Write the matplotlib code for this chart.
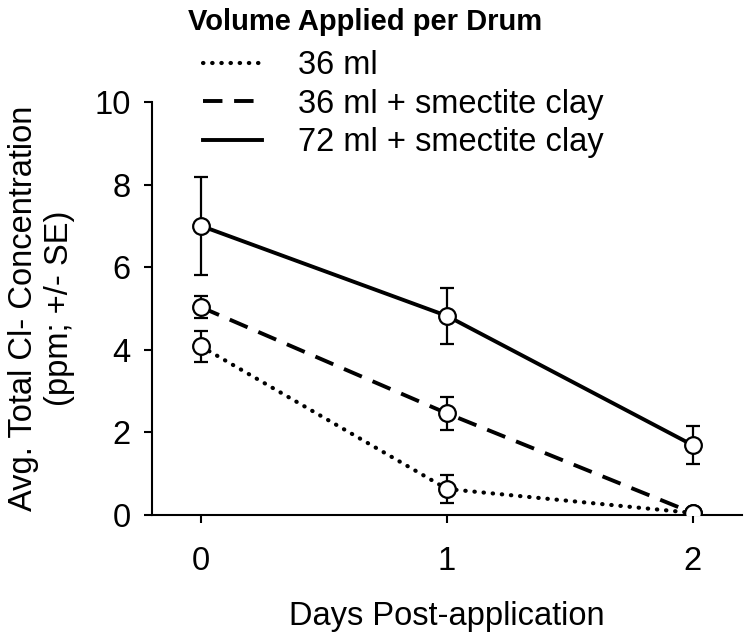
import numpy as np
import matplotlib
matplotlib.use("Agg")
import matplotlib.pyplot as plt

plt.rcParams['font.family'] = ['Liberation Sans', 'DejaVu Sans']

# data
days = [0, 1, 2]
tick_labels = ["0", "1", "2"]
series_names = ["36 ml", "36 ml + smectite clay", "72 ml + smectite clay"]
ml36 = [4.08, 0.63, 0.05]
ml36_se = [0.38, 0.35, 0.0]
ml36_clay = [5.03, 2.46, 0.05]
ml36_clay_se = [0.27, 0.40, 0.0]
ml72_clay = [7.0, 4.82, 1.69]
ml72_clay_se = [1.18, 0.67, 0.46]

fig = plt.figure(figsize=(7.5, 6.37), dpi=100)
ax = fig.add_axes([152/750, 122/637, 590/750, 413/637])

styles = [(0, (0.1, 2.1)), (0, (5, 3)), '-']
widths = [3.0, 2.8, 2.8]
caps = ['round', 'butt', 'butt']
means = [ml36, ml36_clay, ml72_clay]
errs = [ml36_se, ml36_clay_se, ml72_clay_se]

handles = []
for m, e, ls, lw, cs, name in zip(means, errs, styles, widths, caps, series_names):
    line, = ax.plot(days, m, color='black', linestyle=ls, linewidth=lw,
                    dash_capstyle=cs, zorder=2, label=name)
    ax.errorbar(days, m, yerr=e, fmt='none', ecolor='black', elinewidth=1.6,
                capsize=5, capthick=1.6, zorder=3)
    ax.plot(days, m, 'o', markersize=12, markerfacecolor='white',
            markeredgecolor='black', markeredgewidth=1.6, zorder=4)
    handles.append(line)

ax.set_xlim(-0.2, 2.2)
ax.set_ylim(0, 10)
ax.set_xticks(days)
ax.set_xticklabels(tick_labels)
ax.set_yticks([0, 2, 4, 6, 8, 10])

for side in ['top', 'right']:
    ax.spines[side].set_visible(False)
for side in ['left', 'bottom']:
    ax.spines[side].set_linewidth(1.5)
ax.tick_params(axis='both', direction='out', length=5.5, width=1.5,
               labelsize=23.5)
ax.tick_params(axis='x', pad=17)
ax.tick_params(axis='y', pad=10)

ax.set_xlabel("Days Post-application", fontsize=23.5, labelpad=17)
ax.set_ylabel("Avg. Total Cl- Concentration\n(ppm; +/- SE)", fontsize=23.5,
              labelpad=14)

fig.text(188/750, 1 - 22/637, "Volume Applied per Drum", fontsize=21,
         fontweight='bold', va='center', ha='left')
fig.legend(handles=handles, loc='upper left',
           bbox_to_anchor=(203/750, 1 - 50/637), frameon=False,
           fontsize=23.5, handlelength=1.8, handletextpad=1.1,
           labelspacing=0.23, borderpad=0, borderaxespad=0)

fig.savefig("out.png", dpi=100)
